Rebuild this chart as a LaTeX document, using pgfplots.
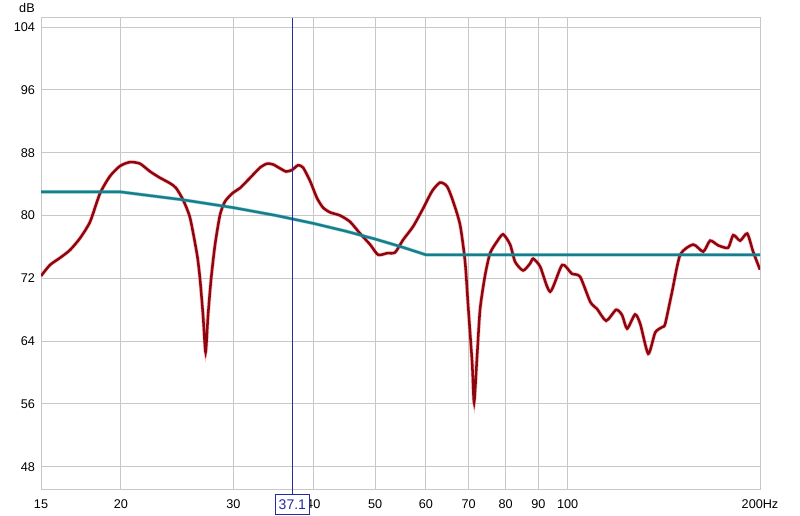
\documentclass[border=0pt]{standalone}
\usepackage{pgfplots}
\pgfplotsset{compat=1.18}
\usepackage{fontspec}
\setmainfont{Liberation Sans}
\definecolor{gridgray}{RGB}{200,200,200}
\definecolor{curvered}{RGB}{140,5,15}
\definecolor{halored}{RGB}{255,140,140}
\definecolor{tealline}{RGB}{25,125,140}
\definecolor{markblue}{RGB}{40,40,165}
\pgfplotstableread{
f db
15 72.3
15.49 73.7
16.06 74.6
16.65 75.6
17.26 77.1
17.90 79.2
18.55 82.8
19.23 85.0
19.94 86.3
20.67 86.8
21.43 86.6
22.22 85.6
23.03 84.8
23.88 84.1
24.40 83.5
25.02 82.0
25.66 79.7
26.32 75.0
26.60 71.9
26.89 67.3
27.14 62.6
27.38 67.3
27.68 71.9
28.08 76.3
28.59 80.1
29.11 81.8
29.96 82.9
30.73 83.5
31.86 84.8
33.02 86.1
33.87 86.6
34.61 86.5
35.49 86.0
36.27 85.6
37.06 85.8
37.87 86.4
38.56 86.1
39.54 84.4
40.55 82.2
41.44 81.0
42.50 80.4
44.06 80.0
45.67 79.2
47.35 77.7
49.09 76.3
50.52 75.0
52.19 75.2
53.71 75.3
55.28 76.9
57.31 78.6
59.42 80.9
61.37 83.1
63.17 84.2
64.78 83.7
66.20 81.8
67.89 78.8
69.12 74.1
69.87 68.6
70.89 61.3
71.40 56.2
72.18 62.2
72.96 68.1
74.29 72.4
75.64 75.2
77.57 76.7
79.27 77.6
81.29 76.3
82.77 74.1
85.19 73.0
87.37 73.9
88.32 74.5
90.57 73.5
93.90 70.3
98.05 73.7
101.5 72.6
104.6 72.2
108.5 69.0
111.2 68.1
114.9 66.6
119.1 68.0
121.7 67.3
123.9 65.6
127.5 67.4
129.9 66.2
133.7 62.4
137.1 65.1
140.6 65.8
142.1 66.2
145.7 70.3
150.0 75.0
157.2 76.3
163.0 75.4
167.1 76.8
172.0 76.2
178.3 75.9
181.6 77.5
186.2 76.8
191.0 77.7
195.1 75.4
200 73.1
}\measured
\pgfplotstableread{
f db
15 83.0
20 83.0
25 82.0
30 81.0
35 80.0
40 79.0
45 78.0
50 77.0
55 76.0
60 75.0
200 75.0
}\target
\begin{document}
\begin{tikzpicture}
\path[use as bounding box] (-30.75pt,-19.5pt) rectangle (569.25pt,367.5pt);
\begin{axis}[
  scale only axis,
  width=539.25pt, height=354pt,
  xmode=log, log basis x=10,
  xmin=15, xmax=200, ymin=45.05, ymax=105.15,
  xtick={15,20,30,40,50,60,70,80,90,100,200},
  xticklabels={15,20,30,40,50,60,70,80,90,100,200Hz},
  ytick={48,56,64,72,80,88,96,104},
  minor xtick={},
  major tick length=0pt, minor tick length=0pt,
  grid=major,
  major grid style={gridgray, line width=0.75pt},
  axis line style={gridgray, line width=0.75pt},
  tick label style={font=\fontsize{9.5}{11}\selectfont, text=black},
  xticklabel style={yshift=-4pt},
  yticklabel style={xshift=-1pt},
  /pgf/number format/assume math mode=true,
]
\addplot[halored, line width=3pt, opacity=0.5, smooth, tension=0.4] table[x=f,y=db] {\measured};
\addplot[curvered, line width=1.9pt, smooth, tension=0.4] table[x=f,y=db] {\measured};
\addplot[tealline!70!cyan, line width=2.6pt, opacity=0.5] table[x=f,y=db] {\target};
\addplot[tealline, line width=1.8pt] table[x=f,y=db] {\target};
\coordinate (mtop) at (axis cs:37.1,105.15);
\coordinate (mbot) at (axis cs:37.1,45.05);
\end{axis}
\node[anchor=base east, font=\fontsize{9.5}{11}\selectfont, inner sep=0pt] at (-4.5pt,358.2pt) {dB};
\node[anchor=north, draw=markblue, fill=white, text=markblue, line width=0.75pt,
  font=\fontsize{10.5}{12}\selectfont, inner sep=0pt, minimum width=26pt, minimum height=15pt] (mlab) at ([yshift=-3pt]mbot) {37.1};
\draw[markblue, line width=0.9pt] (mtop) -- (mlab.north);
\end{tikzpicture}
\end{document}
